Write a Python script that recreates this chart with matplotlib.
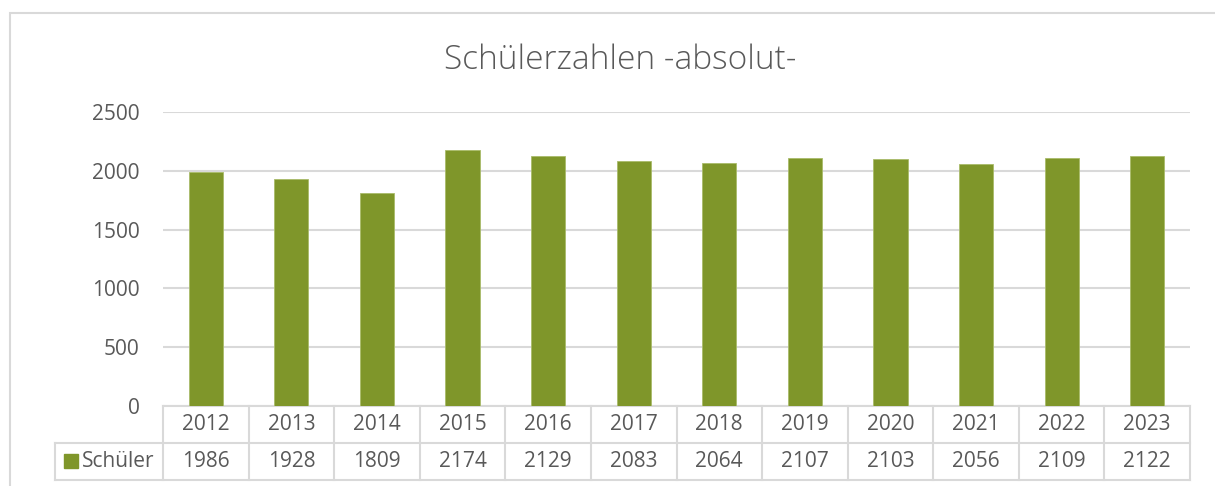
import matplotlib
matplotlib.use("Agg")
import matplotlib.pyplot as plt
from matplotlib.patches import Rectangle
import numpy as np

# data
years = ["2012", "2013", "2014", "2015", "2016", "2017",
         "2018", "2019", "2020", "2021", "2022", "2023"]
schueler = [1986, 1928, 1809, 2174, 2129, 2083, 2064, 2107, 2103, 2056, 2109, 2122]
series_name = "Schüler"
title = "Schülerzahlen -absolut-"
y_ticks = [0, 500, 1000, 1500, 2000, 2500]

BAR = "#7F962A"
GRID = "#D9D9D9"
TXT = "#595959"

plt.rcParams["font.family"] = ["Open Sans", "DejaVu Sans"]

W, H = 1215, 486
fig = plt.figure(figsize=(W / 100, H / 100), dpi=100)

# outer chart frame
fig.patches.append(Rectangle((10 / W, -0.1), 1.1, 1 - 13 / H + 0.1,
                             transform=fig.transFigure, fill=False,
                             edgecolor=GRID, linewidth=1.5))

left, right, top, bottom = 163, 1190, 112, 406
ax = fig.add_axes([left / W, 1 - bottom / H, (right - left) / W, (bottom - top) / H])

x = np.arange(len(years))
ax.bar(x, schueler, width=0.4, color=BAR, edgecolor="#A9BB6A", linewidth=0.6, zorder=3)

ax.set_xlim(-0.5, len(years) - 0.5)
ax.set_ylim(0, 2500)
ax.set_yticks(y_ticks)
ax.set_yticklabels([str(v) for v in y_ticks])
ax.tick_params(axis="y", length=0, pad=17, labelsize=15, labelcolor=TXT)
ax.set_xticks([])
ax.yaxis.grid(True, color=GRID, linewidth=1.5, zorder=0)
for s in ax.spines.values():
    s.set_visible(False)

fig.text(620 / W, 1 - 60 / H, title, ha="center", va="center",
         fontsize=24, color=TXT, fontweight="light")

# data table below the plot (x in data units, y in axes units)
trans = ax.get_xaxis_transform()
col_w = (right - left) / len(years)
row_h = 37 / (bottom - top)
leg_left = -0.5 - (left - 55) / col_w
kw = dict(color=GRID, linewidth=1.5, transform=trans, clip_on=False)

ax.plot([-0.5, len(years) - 0.5], [0, 0], **kw)
ax.plot([leg_left, len(years) - 0.5], [-row_h, -row_h], **kw)
ax.plot([leg_left, len(years) - 0.5], [-2 * row_h, -2 * row_h], **kw)
for b in np.arange(len(years) + 1) - 0.5:
    ax.plot([b, b], [0, -2 * row_h], **kw)
ax.plot([leg_left, leg_left], [-row_h, -2 * row_h], **kw)

for i, (yr, v) in enumerate(zip(years, schueler)):
    ax.text(i, -row_h / 2, yr, transform=trans, ha="center", va="center",
            fontsize=15, color=TXT)
    ax.text(i, -1.5 * row_h, str(v), transform=trans, ha="center", va="center",
            fontsize=15, color=TXT)

# legend key in the table
ax.text(-0.5 - 9 / col_w, -1.5 * row_h, series_name, transform=trans, ha="right",
        va="center", fontsize=15, color=TXT)
sq = 14
ax.add_patch(Rectangle((leg_left + 9 / col_w, -1.5 * row_h - sq / 2 / (bottom - top)),
                       sq / col_w, sq / (bottom - top),
                       transform=trans, color=BAR, clip_on=False))

fig.savefig("out.png", dpi=100)
